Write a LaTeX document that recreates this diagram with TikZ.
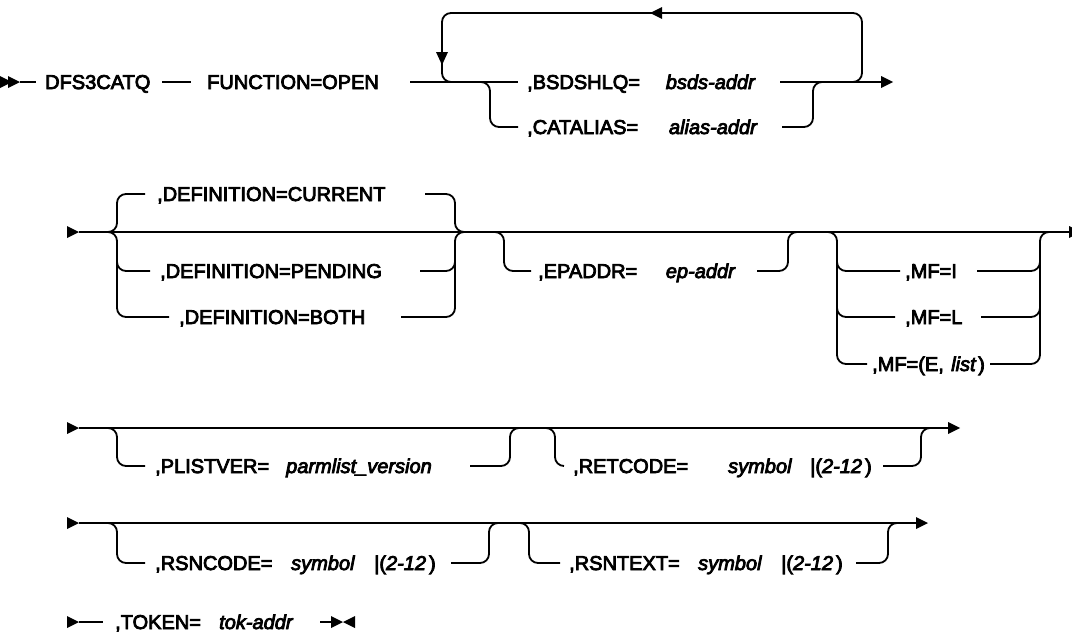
\documentclass[tikz,border=0pt]{standalone}
\usepackage{fontspec}
\setmainfont{Liberation Sans}[UprightFeatures={FakeBold=4}, ItalicFeatures={FakeBold=4}]
\begin{document}
\begin{tikzpicture}[x=1pt,y=-1pt,
  rail/.style={line width=1.8pt, rounded corners=9pt},
  plain/.style={line width=1.8pt},
  lbl/.style={anchor=base west, inner sep=0pt, font=\fontsize{20}{24}\selectfont},
  lble/.style={anchor=base east, inner sep=0pt, font=\fontsize{20}{24}\selectfont},
  var/.style={lbl, font=\fontsize{20}{24}\selectfont\itshape},
  vare/.style={lble, font=\fontsize{20}{24}\selectfont\itshape}]
\useasboundingbox (0,0) rectangle (1072,637);
\newcommand{\rtri}[2]{\fill (#1,#2) -- ++(-12,-6) -- ++(0,12) -- cycle;}
\newcommand{\ltri}[2]{\fill (#1,#2) -- ++(12,-6) -- ++(0,12) -- cycle;}
\newcommand{\dtri}[2]{\fill (#1,#2) -- ++(-6,-13) -- ++(12,0) -- cycle;}

% ---------- row 1 ----------
\rtri{12}{82}\rtri{20}{82}
\draw[plain] (20,82) -- (36,82);
\node[lbl] (dfs) at (45,89) {DFS3CATQ};
\draw[plain] (162,82) -- (191,82);
\node[lbl] (fun) at (207,89) {FUNCTION=OPEN};
\draw[plain] (410,82) -- (518,82);
\node[lbl] (bsds) at (527,89) {,BSDSHLQ=};
\node[vare] (bsdsv) at (755,89) {bsds-addr};
\draw[plain] (780,82) -- (881,82);
\rtri{893}{82}
\draw[rail] (850,82) -| (862,13) -| (442,82) -- (458,82);
\dtri{442}{65}
\ltri{650}{13}
\draw[rail] (478,82) -| (490,127) -- (518,127);
\node[lbl] (cat) at (527,134) {,CATALIAS=};
\node[vare] (catv) at (757,134) {alias-addr};
\draw[rail] (782,127) -| (813,82) -- (825,82);

% ---------- row 2 ----------
\rtri{79}{232}
\draw[plain] (79,232) -- (1070,232);
\rtri{1081}{232}
\draw[rail] (105,232) -| (117,194) -- (145,194);
\draw[rail] (105,232) -| (117,317) -- (169,317);
\draw[rail] (117,250) |- (150,271);
\node[lbl] (cur) at (157,201) {,DEFINITION=CURRENT};
\node[lbl] (pen) at (160,278) {,DEFINITION=PENDING};
\node[lbl] (both) at (179,324) {,DEFINITION=BOTH};
\draw[rail] (425,194) -| (455,232) -- (467,232);
\draw[rail] (401,317) -| (455,232) -- (467,232);
\draw[rail] (420,271) -| (455,250);
\draw[rail] (492,232) -| (504,271) -- (531,271);
\node[lbl] (ep) at (538,278) {,EPADDR=};
\node[vare] (epv) at (735,278) {ep-addr};
\draw[rail] (757,271) -| (788,232) -- (800,232);
\draw[rail] (825,232) -| (837,364) -- (867,364);
\draw[rail] (837,250) |- (900,271);
\draw[rail] (837,296) |- (895,317);
\node[lbl] (mfi) at (905,278) {,MF=I};
\node[lbl] (mfl) at (905,324) {,MF=L};
\node[lbl] (mfe) at (872,371) {,MF=(E,};
\node[var] (mfev) at (951,371) {list};
\node[lbl] (mfep) at (978,371) {)};
\draw[rail] (977,271) -| (1040,250);
\draw[rail] (981,317) -| (1040,296);
\draw[rail] (990,364) -| (1040,232) -- (1052,232);

% ---------- row 3 ----------
\rtri{79}{428}
\draw[plain] (79,428) -- (949,428);
\rtri{960}{428}
\draw[rail] (105,428) -| (117,466) -- (145,466);
\node[lbl] (pl) at (155,473) {,PLISTVER=};
\node[var] (plv) at (286,473) {parmlist\_version};
\draw[rail] (470,466) -| (510,428) -- (522,428);
\draw[rail] (543,428) -| (555,466) -- (564,466);
\node[lbl] (ret) at (573,473) {,RETCODE=};
\node[var] (retv) at (728,473) {symbol};
\node[lbl] (retn) at (810,473) {|(\textit{2-12}\hspace{3pt})};
\draw[rail] (883,466) -| (921,428) -- (933,428);

% ---------- row 4 ----------
\rtri{79}{523}
\draw[plain] (79,523) -- (917,523);
\rtri{928}{523}
\draw[rail] (105,523) -| (117,563) -- (145,563);
\node[lbl] (rsc) at (155,570) {,RSNCODE=};
\node[var] (rscv) at (291,570) {symbol};
\node[lbl] (rscn) at (374,570) {|(\textit{2-12}\hspace{3pt})};
\draw[rail] (451,563) -| (489,523) -- (501,523);
\draw[rail] (517,523) -| (529,563) -- (560,563);
\node[lbl] (rst) at (569,570) {,RSNTEXT=};
\node[var] (rstv) at (698,570) {symbol};
\node[lbl] (rstn) at (781,570) {|(\textit{2-12}\hspace{3pt})};
\draw[rail] (856,563) -| (888,523) -- (900,523);

% ---------- row 5 ----------
\rtri{79}{622}
\draw[plain] (79,622) -- (103,622);
\node[lbl] (tok) at (115,629) {,TOKEN=};
\node[var] (tokv) at (219,629) {tok-addr};
\draw[plain] (320,622) -- (333,622);
\rtri{343}{622}
\ltri{343}{622}
\end{tikzpicture}
\end{document}
